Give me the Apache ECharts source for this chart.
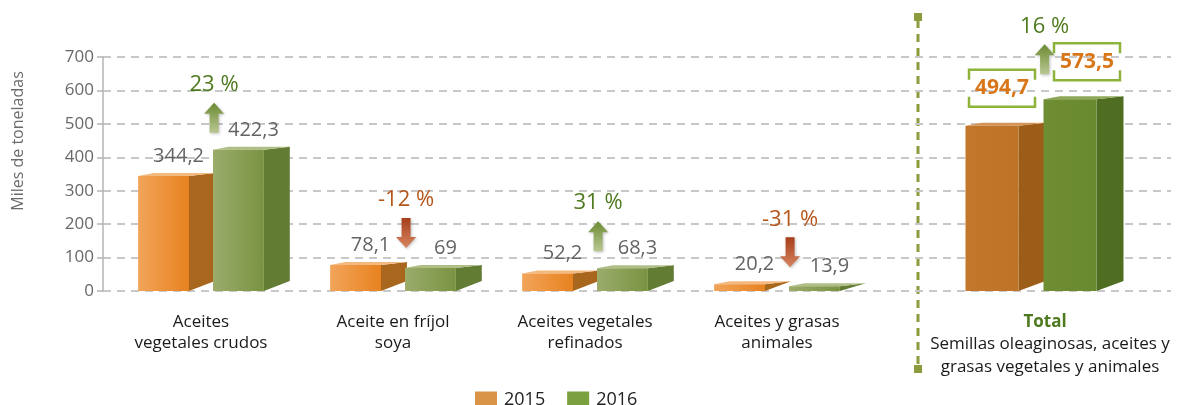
<!DOCTYPE html>
<html>
<head>
<meta charset="utf-8">
<script src="https://cdn.jsdelivr.net/npm/echarts@6/dist/echarts.min.js"></script>
<style>html,body{margin:0;padding:0;background:#fff}#c{width:1179px;height:405px}</style>
</head>
<body>
<div id="c"></div>
<script>
// ---- data ----
const categories = ['Aceites\nvegetales crudos', 'Aceite en fríjol\nsoya', 'Aceites vegetales\nrefinados', 'Aceites y grasas\nanimales'];
const values2015 = [344.2, 78.1, 52.2, 20.2];
const values2016 = [422.3, 69, 68.3, 13.9];
const changePct = [23, -12, 31, -31];
const totalCategory = ['Total'];
const totalSubtitle = ['Semillas oleaginosas, aceites y', 'grasas vegetales y animales'];
const total2015 = [494.7];
const total2016 = [573.5];
const totalChangePct = [16];
const seriesNames = ['2015', '2016'];
const yMin = 0, yMax = 700, yInterval = 100;
const yAxisTitle = 'Miles de toneladas';

// ---- styling ----
const FONT = 'Open Sans';
const fmt = v => String(v).replace('.', ',');
const pal = {
  main: [
    { f0: '#F2A45A', f1: '#E7821F', side: '#A9661D', top: '#F3B97E', legend: '#D99447' },
    { f0: '#9BAC6B', f1: '#7A9342', side: '#627C34', top: '#AEBE85', legend: '#7BA03E' }
  ],
  total: [
    { f0: '#C3772C', f1: '#BE7326', side: '#9C5D18', top: '#D39455' },
    { f0: '#6F8D33', f1: '#6A8A30', side: '#4F6E22', top: '#8EA858' }
  ]
};

function barRenderer(which, isTotal) {
  const p = isTotal ? pal.total[which] : pal.main[which];
  return function (params, api) {
    const idx = api.value(0), val = api.value(1);
    const base = api.coord([idx, 0]);
    const top = api.coord([idx, val]);
    const band = api.size([1, 0])[0];
    const fw = band * 0.265, off = band * 0.0625, dx = band * 0.135;
    const c = base[0];
    const xl = which === 0 ? c - off - fw : c + off;
    const xr = xl + fw;
    const yb = base[1], yt = top[1];
    const backTop = yt - 3;
    const backBottom = Math.max(backTop, yb - 10);
    const children = [
      { type: 'polygon', shape: { points: [[xr, yt], [xr + dx, backTop], [xr + dx, backBottom], [xr, yb]] }, style: { fill: p.side } },
      { type: 'polygon', shape: { points: [[xl, yt], [xr, yt], [xr + dx, backTop], [xl + dx * 0.6, backTop]] }, style: { fill: p.top } },
      { type: 'rect', shape: { x: xl, y: yt, width: fw, height: yb - yt },
        style: { fill: new echarts.graphic.LinearGradient(0, 0, 1, 0, [{ offset: 0, color: p.f0 }, { offset: 1, color: p.f1 }]) } }
    ];
    const cx = xl + fw / 2;
    if (!isTotal) {
      children.push({ type: 'text', style: { text: fmt(val), x: cx + 15, y: yt - 10, align: 'center', verticalAlign: 'bottom',
        fontSize: 20, fontFamily: FONT, fill: '#646464' } });
    } else {
      const bx = cx + (which === 0 ? 10 : 17), bBottom = yt - 19, bTop = bBottom - 37, hw = 33, s = 10;
      const st = { stroke: '#8DB33A', lineWidth: 2.5, fill: null };
      children.push(
        { type: 'polyline', shape: { points: [[bx - hw, bTop + s], [bx - hw, bTop], [bx + hw, bTop], [bx + hw, bTop + s]] }, style: st },
        { type: 'polyline', shape: { points: [[bx - hw, bBottom - s], [bx - hw, bBottom], [bx + hw, bBottom], [bx + hw, bBottom - s]] }, style: st },
        { type: 'text', style: { text: fmt(val), x: bx, y: (bTop + bBottom) / 2, align: 'center', verticalAlign: 'middle',
          fontSize: 21, fontWeight: 'bold', fontFamily: FONT, fill: '#D9761A' } }
      );
    }
    return { type: 'group', children };
  };
}

function changeRenderer(gap) {
  return function (params, api) {
    const idx = api.value(0), hi = api.value(1), pct = api.value(2);
    const pt = api.coord([idx, hi]);
    const band = api.size([1, 0])[0];
    const x = pt[0] + band * 0.068;
    const yBot = pt[1] - gap, yTop = yBot - 30;
    const sw = 4.5, hw = 10, hl = 11;
    const up = pct >= 0;
    let pts, grad;
    if (up) {
      pts = [[x, yTop], [x + hw, yTop + hl], [x + sw, yTop + hl], [x + sw, yBot], [x - sw, yBot], [x - sw, yTop + hl], [x - hw, yTop + hl]];
      grad = new echarts.graphic.LinearGradient(0, 0, 0, 1, [{ offset: 0, color: '#6B8A32' }, { offset: 1, color: '#B9C792' }]);
    } else {
      pts = [[x, yBot], [x + hw, yBot - hl], [x + sw, yBot - hl], [x + sw, yTop], [x - sw, yTop], [x - sw, yBot - hl], [x - hw, yBot - hl]];
      grad = new echarts.graphic.LinearGradient(0, 0, 0, 1, [{ offset: 0, color: '#A63E1A' }, { offset: 1, color: '#D6855F' }]);
    }
    return { type: 'group', children: [
      { type: 'polygon', shape: { points: pts }, style: { fill: grad, shadowBlur: 3, shadowColor: 'rgba(0,0,0,0.25)', shadowOffsetX: 1, shadowOffsetY: 1 } },
      { type: 'text', style: { text: fmt(pct) + ' %', x: x, y: yTop - 18, align: 'center', verticalAlign: 'middle',
        fontSize: 22, fontFamily: FONT, fill: up ? '#4F7A1F' : '#B5561B' } }
    ] };
  };
}

const mainBars15 = values2015.map((v, i) => [i, v]);
const mainBars16 = values2016.map((v, i) => [i, v]);
const mainChange = changePct.map((p, i) => [i, Math.max(values2015[i], values2016[i]), p]);
const totBars15 = total2015.map((v, i) => [i, v]);
const totBars16 = total2016.map((v, i) => [i, v]);
const totChange = totalChangePct.map((p, i) => [i, Math.max(total2015[i], total2016[i]), p]);

const GTOP = 57, GBOT = 114;
const hiddenY = (gi) => ({ type: 'value', gridIndex: gi, min: yMin, max: yMax, interval: yInterval, show: false });

const option = {
  animation: false,
  textStyle: { fontFamily: FONT },
  legend: {
    data: seriesNames, left: 470, top: 386, itemWidth: 22, itemHeight: 17, itemGap: 22,
    icon: 'rect', textStyle: { fontSize: 18, color: '#222', fontFamily: FONT, padding: [0, 0, 0, 2] }
  },
  grid: [
    { left: 103, right: 8, top: GTOP, bottom: GBOT },
    { left: 105, width: 768, top: GTOP, bottom: GBOT },
    { left: 931, width: 200, top: GTOP, bottom: GBOT }
  ],
  xAxis: [
    { type: 'category', gridIndex: 0, data: [''], show: false },
    { type: 'category', gridIndex: 1, data: categories, axisLine: { show: false }, axisTick: { show: false },
      axisLabel: { margin: 21, fontSize: 17, lineHeight: 21, color: '#1A1A1A', fontFamily: FONT, interval: 0 } },
    { type: 'category', gridIndex: 2, data: totalCategory, axisLine: { show: false }, axisTick: { show: false },
      axisLabel: { margin: 20, interval: 0,
        formatter: v => '{b|' + v + '}\n{n|' + totalSubtitle.join('}\n{n|') + '}',
        rich: {
          b: { fontSize: 17, fontWeight: 'bold', color: '#4E7A1F', lineHeight: 22, fontFamily: FONT, padding: [0, 0, 0, 28] },
          n: { fontSize: 17, color: '#1A1A1A', lineHeight: 23, fontFamily: FONT, padding: [0, 0, 0, 38] }
        } } }
  ],
  yAxis: [
    { type: 'value', gridIndex: 0, min: yMin, max: yMax, interval: yInterval,
      axisLine: { show: true, lineStyle: { color: '#B4B4B4', width: 1.5 } },
      axisTick: { show: true, length: 6, lineStyle: { color: '#B4B4B4', width: 1.5 } },
      axisLabel: { fontSize: 17, color: '#686868', margin: 9, fontFamily: FONT },
      splitLine: { show: true, lineStyle: { color: '#C8C8C8', width: 2, type: [8, 6] } } },
    hiddenY(1), hiddenY(2)
  ],
  graphic: [
    { type: 'text', x: 18, y: 141, rotation: Math.PI / 2,
      style: { text: yAxisTitle, align: 'center', verticalAlign: 'middle', fontSize: 16, fill: '#6B6B6B', fontFamily: FONT } },
    { type: 'line', shape: { x1: 918, y1: 20, x2: 918, y2: 366 }, style: { stroke: '#8D9B3C', lineWidth: 3, lineDash: [8, 6] } },
    { type: 'rect', shape: { x: 914, y: 13, width: 8, height: 8 }, style: { fill: '#8D9B3C' } },
    { type: 'rect', shape: { x: 914, y: 365, width: 8, height: 8 }, style: { fill: '#8D9B3C' } }
  ],
  series: [
    { name: seriesNames[0], type: 'custom', xAxisIndex: 1, yAxisIndex: 1, data: mainBars15, renderItem: barRenderer(0, false), itemStyle: { color: pal.main[0].legend }, z: 2 },
    { name: seriesNames[1], type: 'custom', xAxisIndex: 1, yAxisIndex: 1, data: mainBars16, renderItem: barRenderer(1, false), itemStyle: { color: pal.main[1].legend }, z: 3 },
    { name: 'cambio', type: 'custom', xAxisIndex: 1, yAxisIndex: 1, data: mainChange, renderItem: changeRenderer(17), z: 4 },
    { name: seriesNames[0], type: 'custom', xAxisIndex: 2, yAxisIndex: 2, data: totBars15, renderItem: barRenderer(0, true), itemStyle: { color: pal.main[0].legend }, z: 2 },
    { name: seriesNames[1], type: 'custom', xAxisIndex: 2, yAxisIndex: 2, data: totBars16, renderItem: barRenderer(1, true), itemStyle: { color: pal.main[1].legend }, z: 3 },
    { name: 'cambioTotal', type: 'custom', xAxisIndex: 2, yAxisIndex: 2, data: totChange, renderItem: changeRenderer(25), z: 4 }
  ]
};
const chart = echarts.init(document.getElementById('c'), null, { renderer: 'canvas' });
chart.setOption(option);
</script>
</body>
</html>
